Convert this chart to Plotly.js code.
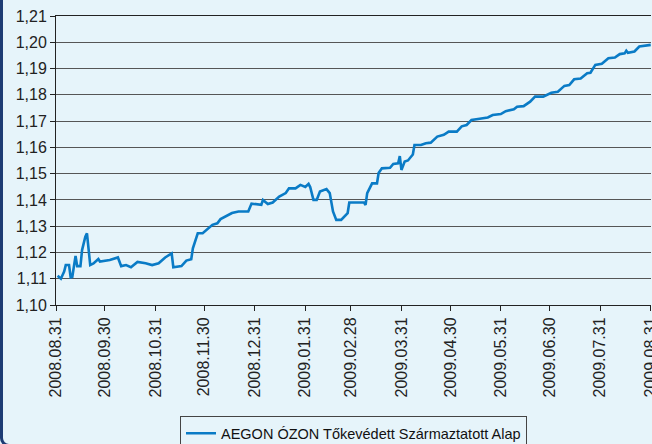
<!DOCTYPE html>
<html>
<head>
<meta charset="utf-8">
<script src="https://cdn.plot.ly/plotly-3.0.1.min.js"></script>
<style>
  html, body { margin: 0; padding: 0; background: #E6F4FA; overflow: hidden; }
  #wrap { position: relative; width: 652px; height: 444px; }
  #chart { width: 652px; height: 444px; }
  #frame { position: absolute; left: 0; top: -20px; width: 700px; height: 467px;
           border: 3px solid #1d3c74; border-radius: 9px; box-sizing: border-box; pointer-events: none; }
</style>
</head>
<body>
<div id="wrap">
  <div id="chart"></div>
  <div id="frame"></div>
</div>
<script>
const seriesName = "AEGON ÓZON Tőkevédett Származtatott Alap";

const dates = [
  "2008-09-01","2008-09-03","2008-09-05","2008-09-06","2008-09-08","2008-09-09","2008-09-10","2008-09-12",
  "2008-09-13","2008-09-15","2008-09-16","2008-09-18","2008-09-19","2008-09-20","2008-09-21","2008-09-23",
  "2008-09-26","2008-09-27","2008-09-30","2008-10-03","2008-10-08","2008-10-10","2008-10-13","2008-10-16",
  "2008-10-20","2008-10-25","2008-10-29","2008-11-02","2008-11-06","2008-11-09","2008-11-10","2008-11-11",
  "2008-11-16","2008-11-19","2008-11-22","2008-11-23","2008-11-26","2008-11-29","2008-12-05","2008-12-08",
  "2008-12-10","2008-12-17","2008-12-21","2008-12-27","2008-12-29","2009-01-04","2009-01-05","2009-01-08",
  "2009-01-11","2009-01-15","2009-01-19","2009-01-21","2009-01-25","2009-01-28","2009-01-31","2009-02-02",
  "2009-02-03","2009-02-05","2009-02-07","2009-02-09","2009-02-13","2009-02-15","2009-02-17","2009-02-19",
  "2009-02-22","2009-02-26","2009-02-27","2009-03-08","2009-03-09","2009-03-10","2009-03-11","2009-03-13",
  "2009-03-16","2009-03-17","2009-03-19","2009-03-24","2009-03-26","2009-03-29","2009-03-30","2009-03-31",
  "2009-04-02","2009-04-04","2009-04-07","2009-04-08","2009-04-12","2009-04-15","2009-04-18","2009-04-22",
  "2009-04-26","2009-04-29","2009-05-04","2009-05-07","2009-05-10","2009-05-13","2009-05-17","2009-05-23",
  "2009-05-26","2009-05-31","2009-06-03","2009-06-08","2009-06-10","2009-06-14","2009-06-18","2009-06-21",
  "2009-06-26","2009-07-01","2009-07-05","2009-07-09","2009-07-12","2009-07-15","2009-07-19","2009-07-23",
  "2009-07-25","2009-07-28","2009-08-01","2009-08-05","2009-08-09","2009-08-12","2009-08-15","2009-08-16",
  "2009-08-17","2009-08-21","2009-08-24","2009-08-31"
];

const values = [
  1.1111,1.1100,1.1127,1.1152,1.1152,1.1105,1.1107,1.1187,
  1.1148,1.1148,1.1209,1.1260,1.1273,1.1205,1.1152,1.1158,
  1.1175,1.1165,1.1169,1.1171,1.1181,1.1148,1.1152,1.1144,
  1.1164,1.1159,1.1152,1.1159,1.1181,1.1194,1.1196,1.1144,
  1.1148,1.1169,1.1174,1.1216,1.1273,1.1273,1.1305,1.1311,
  1.1327,1.1350,1.1356,1.1356,1.1386,1.1381,1.1400,1.1384,
  1.1390,1.1413,1.1426,1.1444,1.1444,1.1457,1.1449,1.1461,
  1.1449,1.1400,1.1400,1.1432,1.1441,1.1426,1.1356,1.1324,
  1.1324,1.1350,1.1390,1.1390,1.1381,1.1426,1.1437,1.1463,
  1.1463,1.1502,1.1520,1.1522,1.1537,1.1539,1.1567,1.1514,
  1.1546,1.1550,1.1573,1.1609,1.1609,1.1616,1.1618,1.1641,
  1.1648,1.1660,1.1660,1.1680,1.1685,1.1704,1.1708,1.1714,
  1.1723,1.1727,1.1738,1.1745,1.1755,1.1757,1.1774,1.1793,
  1.1793,1.1808,1.1812,1.1834,1.1837,1.1859,1.1862,1.1882,
  1.1884,1.1914,1.1918,1.1939,1.1942,1.1955,1.1958,1.1968,
  1.1960,1.1965,1.1984,1.1990
];

const xTickVals = ["2008-08-31","2008-09-30","2008-10-31","2008-11-30","2008-12-31","2009-01-31",
                   "2009-02-28","2009-03-31","2009-04-30","2009-05-31","2009-06-30","2009-07-31","2009-08-31"];
const xTickText = ["2008.08.31","2008.09.30","2008.10.31","2008.11.30","2008.12.31","2009.01.31",
                   "2009.02.28","2009.03.31","2009.04.30","2009.05.31","2009.06.30","2009.07.31","2009.08.31"];
const yTickVals = [1.10,1.11,1.12,1.13,1.14,1.15,1.16,1.17,1.18,1.19,1.20,1.21];

const bg = "#E6F4FA";
const font = "Liberation Sans, Arial, sans-serif";

const trace = {
  type: "scatter", mode: "lines", name: seriesName,
  x: dates, y: values,
  line: { color: "#0a7bc6", width: 2.6 }
};

const layout = {
  width: 652, height: 444,
  margin: { l: 56, r: 1, t: 16, b: 139, autoexpand: false },
  paper_bgcolor: bg, plot_bgcolor: bg,
  separators: ",.",
  font: { family: font, size: 16, color: "#222" },
  showlegend: true,
  hovermode: false,
  xaxis: {
    type: "date",
    range: ["2008-08-31", "2009-08-31 04:00"],
    tickmode: "array", tickvals: xTickVals, ticktext: xTickText,
    tickangle: -90, ticks: "outside", ticklen: 5, tickcolor: "#222",
    ticklabeloverflow: "allow",
    showgrid: false, zeroline: false, automargin: false,
    showline: true, linecolor: "#222", linewidth: 1, mirror: true,
    tickfont: { family: font, size: 16, color: "#222" }
  },
  yaxis: {
    range: [1.10, 1.21],
    tickmode: "array", tickvals: yTickVals, tickformat: ".2f",
    ticks: "outside", ticklen: 5, tickcolor: "#222",
    showgrid: true, gridcolor: "#555", gridwidth: 1,
    zeroline: false, automargin: false,
    showline: true, linecolor: "#222", linewidth: 1,
    tickfont: { family: font, size: 16, color: "#222" }
  },
  legend: {
    x: 0.5, xanchor: "center", y: -0.385, yanchor: "top",
    orientation: "h",
    bgcolor: bg, bordercolor: "#444", borderwidth: 1,
    font: { family: font, size: 14.5, color: "#111" },
    itemwidth: 30
  }
};

Plotly.newPlot("chart", [trace], layout, { staticPlot: true, displayModeBar: false });
</script>
</body>
</html>
